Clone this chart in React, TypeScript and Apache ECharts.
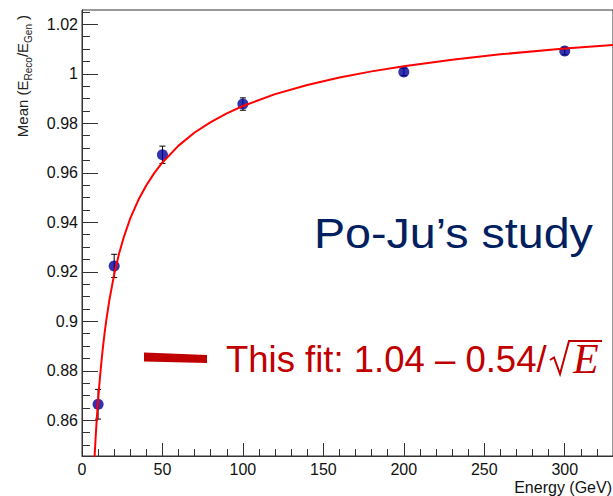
import React, { useEffect, useRef } from "react";
import * as echarts from "echarts";

// Measured points: beam energy (GeV), mean E_Reco/E_Gen and its error
const energies = [10, 20, 50, 100, 200, 300];
const meanValues = [0.8665, 0.9224, 0.9673, 0.9878, 1.0008, 1.0092];
const meanErrors = [0.006, 0.0047, 0.0035, 0.0025, 0.0015, 0.0015];

// Fit curve
const fitEnergies = [7.5, 8, 8.5, 9, 9.5, 10, 11, 12, 13, 14, 15, 17, 20, 23, 26, 30, 35, 40, 45, 50, 60, 70, 80, 90, 100, 120, 140, 160, 180, 200, 230, 260, 300, 330];
const fitValues = [0.8412, 0.8475, 0.8534, 0.8587, 0.8636, 0.8681, 0.8762, 0.8832, 0.8895, 0.895, 0.9, 0.9086, 0.919, 0.9273, 0.9341, 0.9416, 0.949, 0.955, 0.96, 0.9642, 0.971, 0.9763, 0.9805, 0.984, 0.987, 0.9918, 0.9955, 0.9985, 1.001, 1.0031, 1.0057, 1.0079, 1.0102, 1.0117];

// Axis ticks
const xMajorTicks = [0, 50, 100, 150, 200, 250, 300];
const xMinorTicks = [10, 20, 30, 40, 60, 70, 80, 90, 110, 120, 130, 140, 160, 170, 180, 190, 210, 220, 230, 240, 260, 270, 280, 290, 310, 320];
const yMajorTicks = [0.86, 0.88, 0.9, 0.92, 0.94, 0.96, 0.98, 1.0, 1.02];
const yMinorTicks = [0.85, 0.855, 0.865, 0.87, 0.875, 0.885, 0.89, 0.895, 0.905, 0.91, 0.915, 0.925, 0.93, 0.935, 0.945, 0.95, 0.955, 0.965, 0.97, 0.975, 0.985, 0.99, 0.995, 1.005, 1.01, 1.015, 1.025];

const X_MIN = 0;
const X_MAX = 330;
const Y_MIN = 0.8456;
const Y_MAX = 1.0258;

const FONT = "Liberation Sans, Arial, Helvetica, sans-serif";
const AXIS_COLOR = "#333";
const LEGEND_RED = "#c00000";

export default function App() {
  const ref = useRef<HTMLDivElement>(null);
  useEffect(() => {
    if (!ref.current) return;
    const chart = echarts.init(ref.current, undefined, { renderer: "svg" });
    const fmt = (v: number) => String(parseFloat(Number(v).toFixed(3)));
    const option: any = {
      animation: false,
      backgroundColor: "#fff",
      grid: {
        left: 82,
        top: 10,
        width: 533,
        height: 446,
        show: true,
        borderColor: AXIS_COLOR,
        borderWidth: 1,
        backgroundColor: "transparent",
      },
      xAxis: [
        {
          type: "value",
          min: X_MIN,
          max: X_MAX,
          position: "bottom",
          axisLine: { show: true, onZero: false, lineStyle: { color: AXIS_COLOR, width: 1 } },
          axisTick: { show: true, inside: true, length: 13, customValues: xMajorTicks, lineStyle: { color: AXIS_COLOR } },
          axisLabel: { customValues: xMajorTicks, fontSize: 16, color: "#111", margin: 5, fontFamily: FONT, formatter: fmt },
          splitLine: { show: false },
        },
        {
          type: "value",
          min: X_MIN,
          max: X_MAX,
          position: "bottom",
          axisLine: { show: false },
          axisTick: { show: true, inside: true, length: 7, customValues: xMinorTicks, lineStyle: { color: AXIS_COLOR } },
          axisLabel: { show: false },
          splitLine: { show: false },
        },
      ],
      yAxis: [
        {
          type: "value",
          min: Y_MIN,
          max: Y_MAX,
          position: "left",
          axisLine: { show: true, onZero: false, lineStyle: { color: AXIS_COLOR, width: 1 } },
          axisTick: { show: true, inside: true, length: 16, customValues: yMajorTicks, lineStyle: { color: AXIS_COLOR } },
          axisLabel: { customValues: yMajorTicks, fontSize: 16, color: "#111", margin: 4, fontFamily: FONT, formatter: fmt },
          splitLine: { show: false },
        },
        {
          type: "value",
          min: Y_MIN,
          max: Y_MAX,
          position: "left",
          axisLine: { show: false },
          axisTick: { show: true, inside: true, length: 8, customValues: yMinorTicks, lineStyle: { color: AXIS_COLOR } },
          axisLabel: { show: false },
          splitLine: { show: false },
        },
      ],
      series: [
        {
          type: "custom",
          xAxisIndex: 0,
          yAxisIndex: 0,
          z: 1,
          data: energies.map((e, i) => [e, meanValues[i] - meanErrors[i], meanValues[i] + meanErrors[i]]),
          encode: { x: 0, y: [1, 2] },
          renderItem: (params: any, api: any) => {
            const x = api.value(0);
            const lo = api.coord([x, api.value(1)]);
            const hi = api.coord([x, api.value(2)]);
            const c = 3;
            const st = { stroke: "#000", lineWidth: 1 };
            return {
              type: "group",
              children: [
                { type: "line", shape: { x1: lo[0], y1: lo[1], x2: hi[0], y2: hi[1] }, style: st },
                { type: "line", shape: { x1: lo[0] - c, y1: lo[1], x2: lo[0] + c, y2: lo[1] }, style: st },
                { type: "line", shape: { x1: hi[0] - c, y1: hi[1], x2: hi[0] + c, y2: hi[1] }, style: st },
              ],
            };
          },
        },
        {
          type: "scatter",
          xAxisIndex: 0,
          yAxisIndex: 0,
          z: 2,
          symbol: "circle",
          symbolSize: 11,
          itemStyle: { color: "#000099" },
          data: energies.map((e, i) => [e, meanValues[i]]),
        },
        {
          type: "line",
          xAxisIndex: 0,
          yAxisIndex: 0,
          z: 3,
          showSymbol: false,
          smooth: false,
          clip: true,
          lineStyle: { color: "#ff0000", width: 2 },
          data: fitEnergies.map((e, i) => [e, fitValues[i]]),
        },
      ],
      graphic: [
        {
          type: "text",
          x: 22,
          y: 76,
          rotation: Math.PI / 2,
          style: {
            text: "{n|Mean (E}{s|Reco}{n|/E}{s|Gen}{n| )}",
            align: "center",
            verticalAlign: "middle",
            fill: "#222",
            rich: {
              n: { fontSize: 15, fontFamily: FONT, fill: "#222", lineHeight: 22, verticalAlign: "middle" },
              s: { fontSize: 10, fontFamily: FONT, fill: "#222", verticalAlign: "bottom" },
            },
          },
        },
        {
          type: "text",
          x: 612,
          y: 479,
          style: { text: "Energy (GeV)", fontSize: 16, fontFamily: FONT, fill: "#111", align: "right", verticalAlign: "top" },
        },
        {
          type: "text",
          x: 314,
          y: 212,
          scaleX: 1.11,
          style: { text: "Po-Ju’s study", fontSize: 42, fontFamily: FONT, fill: "#002060", align: "left", verticalAlign: "top" },
        },
        {
          type: "polygon",
          shape: { points: [[144, 352.5], [207, 355], [207, 363], [144, 361.5]] },
          style: { fill: LEGEND_RED },
        },
        {
          type: "text",
          x: 226,
          y: 341,
          style: { text: "This fit: 1.04 – 0.54/", fontSize: 36.5, fontFamily: FONT, fill: LEGEND_RED, align: "left", verticalAlign: "top" },
        },
        {
          type: "polyline",
          shape: { points: [[550, 360], [554, 357.5], [560, 374], [569, 341], [602, 341]] },
          style: { stroke: LEGEND_RED, lineWidth: 2, fill: null, lineJoin: "miter" },
        },
        {
          type: "text",
          x: 573,
          y: 338,
          style: {
            text: "E",
            fontSize: 42,
            fontFamily: "Liberation Serif, serif",
            fontStyle: "italic",
            fill: LEGEND_RED,
            align: "left",
            verticalAlign: "top",
          },
        },
      ],
    };
    chart.setOption(option);
    return () => chart.dispose();
  }, []);
  return (
    <div
      ref={ref}
      style={{ position: "absolute", left: 0, top: 0, width: 613, height: 496, background: "#fff" }}
    />
  );
}
